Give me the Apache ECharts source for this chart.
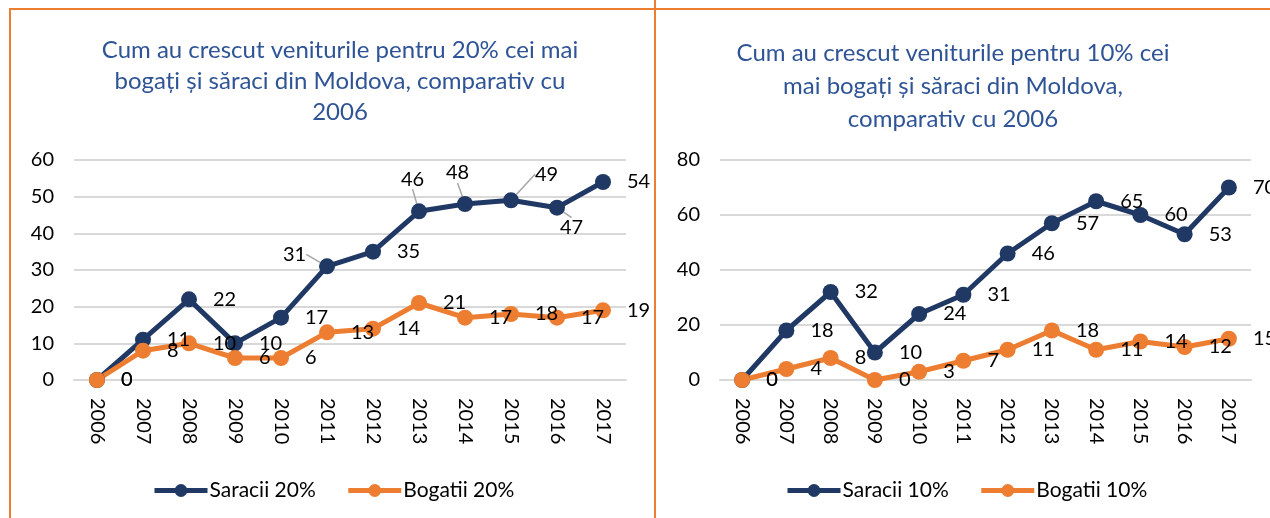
<!DOCTYPE html>
<html>
<head>
<meta charset="utf-8">
<script src="https://cdn.jsdelivr.net/npm/echarts@6/dist/echarts.min.js"></script>
<style>
  html, body { margin: 0; padding: 0; background: #fff; }
  #main { width: 1270px; height: 518px; }
</style>
</head>
<body>
<div id="main"></div>
<script>
// ani pe axa X
var years = ['2006', '2007', '2008', '2009', '2010', '2011', '2012', '2013', '2014', '2015', '2016', '2017']

// 20% cei mai saraci / bogati
var saracii20 = [0, 11, 22, 10, 17, 31, 35, 46, 48, 49, 47, 54]
var bogatii20 = [0, 8, 10, 6, 6, 13, 14, 21, 17, 18, 17, 19]

// 10% cei mai saraci / bogati
var saracii10 = [0, 18, 32, 10, 24, 31, 46, 57, 65, 60, 53, 70]
var bogatii10 = [0, 4, 8, 0, 3, 7, 11, 18, 11, 14, 12, 15]

var titles = [
  'Cum au crescut veniturile pentru 20% cei mai\nbogați și săraci din Moldova, comparativ cu\n2006',
  'Cum au crescut veniturile pentru 10% cei\nmai bogați și săraci din Moldova,\ncomparativ cu 2006'
]

var NAVY = '#203864'
var ORANGE = '#ED7D31'
var FONT = 'Lato'

// etichete mutate (cu linie de ghidaj) pentru graficul 20%
var moved20 = { 5: [-68, -12], 7: [-42, -32], 8: [-43, -31], 9: [0, -26], 10: [-21, 20] }

function lineSeries (name, values, color, idx, moved) {
  var data = values.map(function (v, i) {
    if (moved && moved[i]) {
      return { value: v, labelLine: { show: true, lineStyle: { color: '#A6A6A6', width: 1.5 } } }
    }
    return v
  })
  return {
    name: name,
    type: 'line',
    xAxisIndex: idx,
    yAxisIndex: idx,
    data: data,
    symbol: 'circle',
    symbolSize: 16,
    itemStyle: { color: color },
    lineStyle: { color: color, width: 5 },
    label: {
      show: true,
      position: 'right',
      distance: 16,
      color: '#000',
      fontFamily: FONT,
      fontSize: 20
    },
    labelLayout: function (p) {
      if (moved && moved[p.dataIndex]) {
        return { dx: moved[p.dataIndex][0], dy: moved[p.dataIndex][1] }
      }
      return {}
    },
    animation: false
  }
}

function xAxis (idx) {
  return {
    type: 'category',
    gridIndex: idx,
    data: years,
    boundaryGap: true,
    axisLine: { lineStyle: { color: '#D9D9D9', width: 2 } },
    axisTick: { show: false },
    axisLabel: {
      rotate: -90,
      color: '#000',
      fontFamily: FONT,
      fontSize: 20,
      margin: 18
    }
  }
}

function yAxis (idx, max, interval) {
  return {
    type: 'value',
    gridIndex: idx,
    min: 0,
    max: max,
    interval: interval,
    axisLine: { show: false },
    axisTick: { show: false },
    splitLine: { lineStyle: { color: '#D9D9D9', width: 2 } },
    axisLabel: { color: '#000', fontFamily: FONT, fontSize: 20, margin: 20 }
  }
}

function legend (names, left) {
  return {
    data: names,
    left: left,
    top: 475,
    itemWidth: 53,
    itemHeight: 16,
    itemGap: 30,
    lineStyle: { width: 5 },
    textStyle: { color: '#000', fontFamily: FONT, fontSize: 21, padding: [0, 0, 0, -3] }
  }
}

var chart = echarts.init(document.getElementById('main'))
chart.setOption({
  backgroundColor: '#fff',
  title: [
    {
      text: titles[0],
      left: 335,
      top: 30,
      textAlign: 'center',
      textStyle: { color: '#2F5496', fontFamily: FONT, fontSize: 24, fontWeight: 'normal', lineHeight: 31 }
    },
    {
      text: titles[1],
      left: 948,
      top: 32,
      textAlign: 'center',
      textStyle: { color: '#2F5496', fontFamily: FONT, fontSize: 24, fontWeight: 'normal', lineHeight: 33 }
    }
  ],
  legend: [
    legend(['Saracii 20%', 'Bogatii 20%'], 147),
    legend(['Saracii 10%', 'Bogatii 10%'], 780)
  ],
  grid: [
    { left: 74, top: 160, width: 552, height: 220 },
    { left: 720, top: 160, width: 531, height: 220 }
  ],
  xAxis: [xAxis(0), xAxis(1)],
  yAxis: [yAxis(0, 60, 10), yAxis(1, 80, 20)],
  series: [
    lineSeries('Saracii 20%', saracii20, NAVY, 0, moved20),
    lineSeries('Bogatii 20%', bogatii20, ORANGE, 0),
    lineSeries('Saracii 10%', saracii10, NAVY, 1),
    lineSeries('Bogatii 10%', bogatii10, ORANGE, 1)
  ],
  // chenarele portocalii ale celor doua grafice
  graphic: [
    { type: 'line', shape: { x1: 9, y1: 9, x2: 1270, y2: 9 }, style: { stroke: ORANGE, lineWidth: 2 } },
    { type: 'line', shape: { x1: 10, y1: 9, x2: 10, y2: 518 }, style: { stroke: ORANGE, lineWidth: 2 } },
    { type: 'line', shape: { x1: 655, y1: 0, x2: 655, y2: 518 }, style: { stroke: ORANGE, lineWidth: 2 } }
  ]
})
</script>
</body>
</html>
